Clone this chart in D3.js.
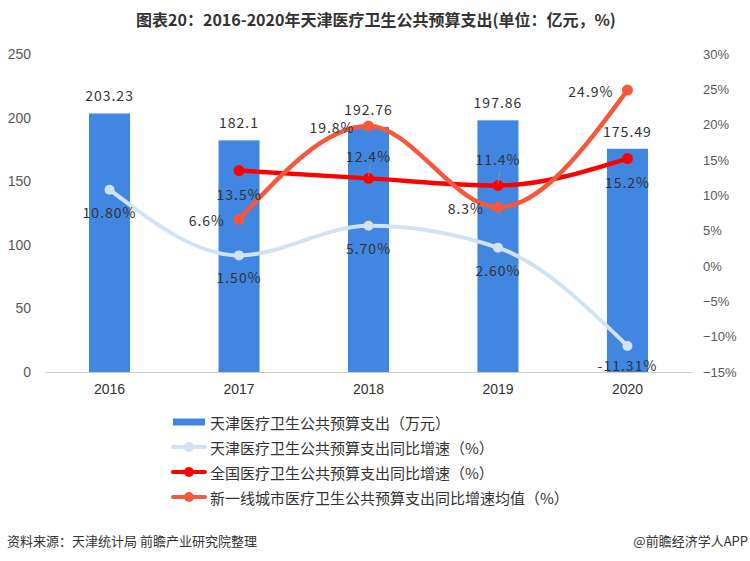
<!DOCTYPE html>
<html><head><meta charset="utf-8">
<script src="https://cdn.jsdelivr.net/npm/d3@7"></script>
<style>
html,body{margin:0;padding:0;background:#fff;}
svg{display:block;font-family:"Noto Sans CJK SC","Noto Sans",sans-serif;}
</style></head>
<body><svg id="c" width="750" height="561"></svg>
<script>
const years = ["2016","2017","2018","2019","2020"];
const spending = [203.23, 182.1, 192.76, 197.86, 175.49];
const tjGrowth = [10.80, 1.50, 5.70, 2.60, -11.31];
const tjGrowthLabels = ["10.80%","1.50%","5.70%","2.60%","-11.31%"];
const cnYears = ["2017","2018","2019","2020"];
const cnGrowth = [13.5, 12.4, 11.4, 15.2];
const ncYears = ["2017","2018","2019","2020"];
const ncGrowth = [6.6, 19.8, 8.3, 24.9];
const leftTicks = [0, 50, 100, 150, 200, 250];
const rightTicks = [-15, -10, -5, 0, 5, 10, 15, 20, 25, 30];
const legendNames = ["天津医疗卫生公共预算支出（万元）","天津医疗卫生公共预算支出同比增速（%）","全国医疗卫生公共预算支出同比增速（%）","新一线城市医疗卫生公共预算支出同比增速均值（%）"];
const title = "图表20：2016-2020年天津医疗卫生公共预算支出(单位：亿元，%)";
const source = "资料来源：天津统计局 前瞻产业研究院整理";
const brand = "@前瞻经济学人APP";

const C = {bar:"#4186e1", light:"#d2e2f6", red:"#ff0000", orange:"#f5583b", text:"#333", axis:"#595959"};
const svg = d3.select("#c");
const pTop = 54, pBottom = 372, pLeft = 45, pRight = 692;

const x = d3.scaleBand().domain(years).range([pLeft, pRight]).paddingInner(0.683).paddingOuter(0.34);
const yL = d3.scaleLinear().domain([0, 250]).range([pBottom, pTop]);
const yR = d3.scaleLinear().domain([-15, 30]).range([pBottom, pTop]);
const cx = d => x(d) + x.bandwidth()/2;

// title
svg.append("text").attr("x", 376).attr("y", 26).attr("text-anchor","middle")
  .attr("font-size", 16).attr("font-weight","bold").attr("fill","#333").text(title);

// left axis
const gL = svg.append("g").attr("transform",`translate(${pLeft},0)`)
  .call(d3.axisLeft(yL).tickValues(leftTicks).tickSize(0).tickPadding(14));
gL.select(".domain").remove();
gL.selectAll("text").attr("font-family","Liberation Sans, Arial, sans-serif").attr("font-size",14).attr("fill",C.axis);

// right axis
const gR = svg.append("g").attr("transform",`translate(${pRight},0)`)
  .call(d3.axisRight(yR).tickValues(rightTicks).tickSize(0).tickPadding(11)
    .tickFormat(d => (d < 0 ? "\u2212" + Math.abs(d) : d) + "%"));
gR.select(".domain").remove();
gR.selectAll("text").attr("font-family","Liberation Sans, Arial, sans-serif").attr("font-size",13).attr("fill",C.axis);

// bars
svg.append("g").selectAll("rect").data(years).join("rect")
  .attr("x", d => x(d)).attr("width", x.bandwidth())
  .attr("y", (d,i) => yL(spending[i])).attr("height", (d,i) => yL(0) - yL(spending[i]))
  .attr("fill", C.bar);

// x axis
const gX = svg.append("g").attr("transform",`translate(0,${pBottom})`)
  .call(d3.axisBottom(x).tickSize(0).tickPadding(12));
gX.select(".domain").attr("stroke","#ccc");
gX.selectAll("text").attr("font-family","Liberation Sans, Arial, sans-serif").attr("font-size",14).attr("fill","#333");

// bar labels
svg.append("g").selectAll("text").data(years).join("text")
  .attr("x", d => cx(d)).attr("y", (d,i) => yL(spending[i]) - 12)
  .attr("text-anchor","middle").attr("font-size",14).attr("fill",C.text).attr("letter-spacing",1)
  .text((d,i) => String(spending[i]));

const line = d3.line().curve(d3.curveMonotoneX);

function drawSeries(xs, vals, color, width, r) {
  const pts = xs.map((d,i) => [cx(d), yR(vals[i])]);
  svg.append("path").attr("d", line(pts)).attr("fill","none").attr("stroke",color)
    .attr("stroke-width",width).attr("stroke-linecap","round");
  svg.append("g").selectAll("circle").data(pts).join("circle")
    .attr("cx", p => p[0]).attr("cy", p => p[1]).attr("r", r).attr("fill", color);
  return pts;
}

const pL = drawSeries(years, tjGrowth, C.light, 4, 5);
const pR = drawSeries(cnYears, cnGrowth, C.red, 4.5, 5.5);
const pO = drawSeries(ncYears, ncGrowth, C.orange, 4.5, 5.5);

// leader lines for red labels above
[1,2].forEach(i => {
  svg.append("line").attr("x1", pR[i][0]).attr("y1", pR[i][1]-2).attr("x2", pR[i][0]+2).attr("y2", pR[i][1]-14)
    .attr("stroke","#999").attr("stroke-width",0.8);
});

// labels
const lab = (x0, y0, t, anchor) => svg.append("text").attr("x", x0).attr("y", y0)
  .attr("text-anchor", anchor).attr("dominant-baseline","central").attr("font-size",14).attr("fill",C.text)
  .attr("letter-spacing",1).text(t);

pL.forEach((p,i) => lab(p[0], p[1] + (i===4 ? 19 : 22), tjGrowthLabels[i], "middle"));
const redOff = [23, -22, -26, 23];
pR.forEach((p,i) => lab(p[0], p[1] + redOff[i], cnGrowth[i].toFixed(1) + "%", "middle"));
pO.forEach((p,i) => lab(p[0] - 14, p[1] + 1, ncGrowth[i].toFixed(1) + "%", "end"));

// legend
const lg = svg.append("g");
const rows = [422, 447, 472, 497];
const lcol = [C.bar, C.light, C.red, C.orange];
rows.forEach((ry, i) => {
  if (i === 0) {
    lg.append("rect").attr("x",173).attr("y",ry-3.5).attr("width",32).attr("height",7).attr("fill",lcol[i]);
  } else {
    lg.append("line").attr("x1",173).attr("x2",205).attr("y1",ry).attr("y2",ry)
      .attr("stroke",lcol[i]).attr("stroke-width",4).attr("stroke-linecap","round");
    lg.append("circle").attr("cx",189).attr("cy",ry).attr("r",5).attr("fill",lcol[i]);
  }
  lg.append("text").attr("x",210).attr("y",ry).attr("dominant-baseline","central")
    .attr("font-size",15).attr("fill",C.text).text(legendNames[i]);
});

// footer
svg.append("text").attr("x",7).attr("y",546).attr("font-size",13).attr("fill","#333").text(source);
svg.append("text").attr("x",748).attr("y",546).attr("text-anchor","end").attr("font-size",13).attr("fill","#333").text(brand);
</script></body></html>
